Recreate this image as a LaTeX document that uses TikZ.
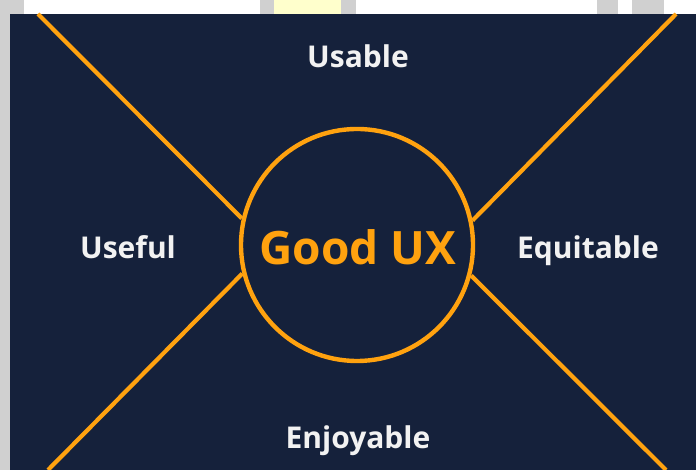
\documentclass[tikz,border=0pt]{standalone}
\usepackage{fontspec}
\setmainfont{Open Sans}
\definecolor{uxnavy}{HTML}{15213B}
\definecolor{uxorange}{HTML}{FFA20F}
\definecolor{uxwhite}{HTML}{F2F2F2}
\definecolor{stripgray}{HTML}{D0D0D0}
\definecolor{stripyellow}{HTML}{FFFFCC}
\begin{document}
\begin{tikzpicture}[x=1pt,y=1pt]
	\tikzset{quality/.style={text=uxwhite,font=\fontsize{30}{32}\selectfont\bfseries,anchor=base}}
	\tikzset{spoke/.style={draw=uxorange,line width=4.2pt}}
	\useasboundingbox (0,0) rectangle (696,470);
	% page behind the board
	\fill[white] (0,0) rectangle (696,470);
	\fill[stripgray] (0,0) rectangle (10,470);
	\fill[stripgray] (3,456) rectangle (24,470);
	\fill[stripgray] (260,456) rectangle (274,470);
	\fill[stripyellow] (274,456) rectangle (341,470);
	\fill[stripgray] (341,456) rectangle (356,470);
	\fill[stripgray] (597,456) rectangle (618,470);
	\fill[stripgray] (632,456) rectangle (664,470);
	\fill[uxnavy] (10,0) rectangle (696,456);
	% centre
	\node[circle,draw=uxorange,line width=4.4pt,minimum size=232pt,inner sep=0pt] (good) at (357,225) {};
	\node[text=uxorange,font=\fontsize{46}{48}\selectfont\bfseries,anchor=base] (goodtext) at (358,205) {Good UX};
	% spokes, at 45 degrees
	\coordinate (tl) at (38,456);
	\coordinate (tr) at (676,456);
	\coordinate (bl) at (48,0);
	\coordinate (br) at (666,0);
	\foreach \c/\a in {tl/167.5,tr/12.5,bl/194.2,br/345.8}
		\draw[spoke] (good.\a) -- (\c);
	% qualities
	\node[quality] (usable) at (358,402) {Usable};
	\node[quality] (useful) at (128,211) {Useful};
	\node[quality] (equitable) at (588,211) {Equitable};
	\node[quality] (enjoyable) at (358,21) {Enjoyable};
\end{tikzpicture}
\end{document}
